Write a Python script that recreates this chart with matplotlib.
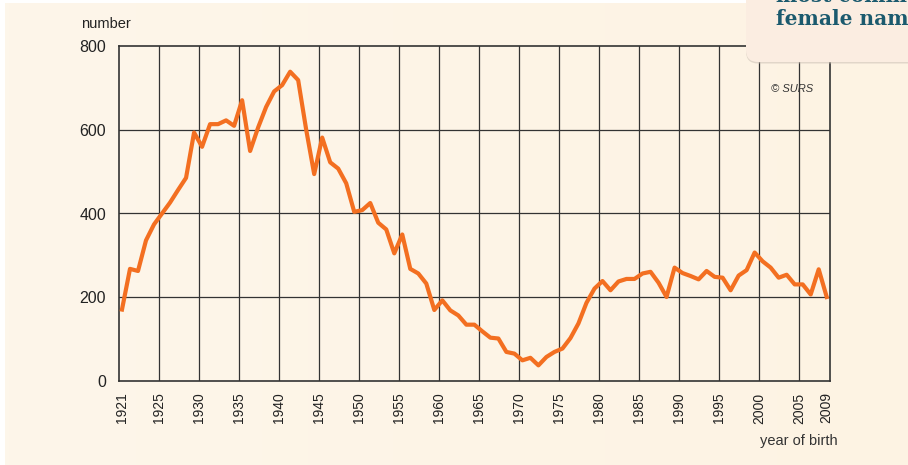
####################################################

# Load modules

import numpy as np
import matplotlib
matplotlib.use("Agg")
from matplotlib import pyplot as plt
from matplotlib.patches import FancyBboxPatch
from matplotlib.colors import LinearSegmentedColormap

####################################################

# Data: number of girls given the name, by year of birth

years = list(range(1921, 2010))
counts = [171, 268, 263, 336, 374, 400, 426, 456, 485, 593,
          559, 613, 613, 622, 609, 670, 549, 605, 654, 691,
          706, 738, 718, 600, 494, 581, 522, 507, 472, 404,
          408, 425, 378, 362, 305, 350, 268, 257, 233, 170,
          193, 169, 157, 135, 135, 119, 104, 102, 70, 66,
          50, 56, 38, 58, 70, 78, 103, 138, 187, 221,
          239, 217, 238, 244, 244, 257, 261, 235, 201, 271,
          258, 251, 243, 263, 249, 247, 217, 252, 265, 307,
          286, 271, 247, 254, 231, 231, 207, 267, 201]

tick_years = [1921, 1925, 1930, 1935, 1940, 1945, 1950, 1955, 1960, 1965,
              1970, 1975, 1980, 1985, 1990, 1995, 2000, 2005, 2009]
y_ticks = [0, 200, 400, 600, 800]

####################################################

W, H = 908, 465
fig = plt.figure(figsize=(W / 100, H / 100), dpi=100)
fig.patch.set_facecolor("white")

# cream background with a faint left-to-right gradient
bg = fig.add_axes([5 / W, 0, 1 - 5 / W, 1 - 3 / H], zorder=-2)
grad = np.linspace(0, 1, 256).reshape(1, -1)
cream = LinearSegmentedColormap.from_list("cream", ["#fdf6ea", "#fdf3e3"])
bg.imshow(grad, aspect="auto", cmap=cream, extent=[0, 1, 0, 1])
bg.axis("off")

ax = fig.add_axes([118.7 / W, (H - 381.3) / H, (830 - 118.7) / W, (381.3 - 45.7) / H])
ax.patch.set_alpha(0)

# grid lines (and their labels) sit a little right of the year points
shift = 0.59
tick_pos = [t if t in (1921, 2009) else t + shift for t in tick_years]
for gx in tick_pos[1:-1]:
    ax.axvline(gx, color="#333333", lw=0.9, zorder=1)
for gy in y_ticks[1:-1]:
    ax.axhline(gy, color="#333333", lw=0.9, zorder=1)

ax.plot(years, counts, color="#f36f21", lw=3.0, zorder=3)

ax.set_xlim(1920.59, 2009.41)
ax.set_ylim(0, 800)

ax.set_xticks(tick_pos)
ax.set_xticklabels([str(t) for t in tick_years], rotation=90, fontsize=10,
                   family="Liberation Sans", color="#222222")
ax.set_yticks(y_ticks)
ax.set_yticklabels([str(t) for t in y_ticks], fontsize=11.5,
                   family="Liberation Sans", color="#222222")
ax.tick_params(axis="both", length=0)
ax.tick_params(axis="x", pad=8)
ax.tick_params(axis="y", pad=9)

for s in ax.spines.values():
    s.set_color("#333333")
    s.set_linewidth(1.2)

fig.text(81 / W, 1 - 24 / H, "number", ha="left", va="center",
         fontsize=10.5, family="Liberation Sans", color="#222222")
fig.text(838 / W, 1 - 441 / H, "year of birth", ha="right", va="center",
         fontsize=10.5, family="Liberation Sans", color="#333333")
fig.text(771 / W, 1 - 89 / H, "© SURS", ha="left", va="center",
         fontsize=8, style="italic", family="Liberation Sans", color="#333333")

# title box cut off at the top right corner
px = fig.dpi_scale_trans
shadow = FancyBboxPatch((7.46, 4.65 - 0.635), 2.0, 1.0,
                        boxstyle="round,pad=0,rounding_size=0.12",
                        transform=px, facecolor="#cfc4b8", edgecolor="none",
                        alpha=0.6, zorder=5)
box = FancyBboxPatch((7.46, 4.65 - 0.62), 2.0, 1.0,
                     boxstyle="round,pad=0,rounding_size=0.12",
                     transform=px, facecolor="#fbede1", edgecolor="none", zorder=6)
fig.patches.extend([shadow, box])
fig.text(776 / W, 1 - 1.5 / H, "most common", ha="left", va="baseline",
         fontsize=14.5, fontweight="bold", family="DejaVu Serif",
         color="#1b5a6e", zorder=7)
fig.text(776 / W, 1 - 25 / H, "female name", ha="left", va="baseline",
         fontsize=14.5, fontweight="bold", family="DejaVu Serif",
         color="#1b5a6e", zorder=7)

fig.savefig("out.png", dpi=100, facecolor=fig.get_facecolor())
